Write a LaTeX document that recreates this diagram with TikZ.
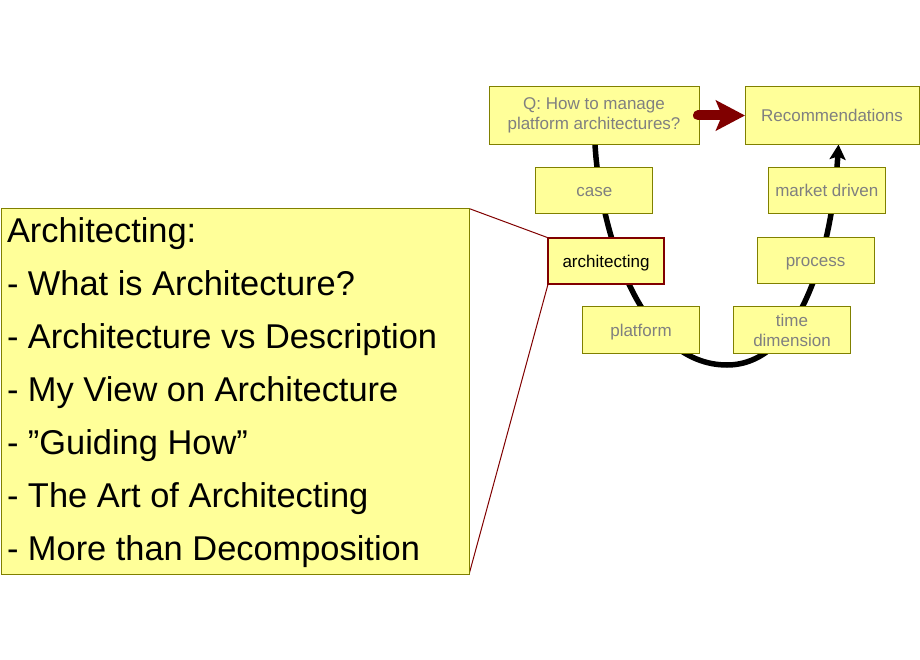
\documentclass[tikz,border=0pt]{standalone}
\usepackage{fontspec}
\setmainfont{Liberation Sans}
\usetikzlibrary{arrows.meta,backgrounds}
\definecolor{boxfill}{HTML}{FFFF99}
\definecolor{boxline}{HTML}{808000}
\definecolor{darkred}{HTML}{800000}
\tikzset{
  box/.style={draw=boxline,fill=boxfill,line width=1pt,outer sep=0pt,inner sep=0pt,align=flush center,text=gray,
    font=\fontsize{17}{20}\selectfont},
  topbox/.style={box,minimum height=58pt},
  stopbox/.style={box,minimum width=117pt,minimum height=46.5pt},
  oneline/.style={text height=16pt,text depth=4pt}
}
\begin{document}
\begin{tikzpicture}[x=1pt,y=-1pt]
\useasboundingbox (0,0) rectangle (920,660);
\node[topbox,minimum width=210pt] (q) at (594,115.5) {Q: How to manage\\platform architectures?};
\node[topbox,oneline,minimum width=174pt] (rec) at (832,115.5) {Recommendations};
\node[stopbox,oneline] (case) at (594.3,190.5) {case};
\node[stopbox,oneline] (market) at (826.8,190.5) {market driven};
\node[stopbox,oneline] (process) at (815.5,260.5) {process};
\node[stopbox,oneline] (platform) at (641,330) {platform};
\node[stopbox] (time) at (792,330) {time\\dimension};
\node[stopbox,oneline,minimum width=116pt,draw=darkred,line width=2pt,text=black] (arch) at (606,261) {architecting};
\node[box,minimum width=468pt,minimum height=366pt,text=black,align=flush left,anchor=north west,text width=456pt,
  font=\fontsize{34.4}{53}\selectfont] (big) at (1,208.5) {\rule{0pt}{27pt}Architecting:\\- What is Architecture?\\- Architecture vs Description\\- My View on Architecture\\- ”Guiding How”\\- The Art of Architecting\\- More than Decomposition};
\begin{pgfonlayer}{background}
\draw [-{Stealth[length=15pt,width=16pt,inset=3pt]},line width=5.5pt] ([xshift=1pt] q.south) .. controls (600,230) and (640,365) .. (727,365)
  .. controls (800,365) and (832,250) .. ([xshift=6.5pt] rec.south);
\draw [line width=1pt,darkred] (big.north east) -- (arch.north west);
\draw [line width=1pt,darkred] (big.south east) -- (arch.south west);
\end{pgfonlayer}
\draw [-{Stealth[length=29pt,width=30pt,inset=6pt]},line width=10pt,line cap=round,darkred] ([xshift=-1pt] q.east) -- (rec.west);
\end{tikzpicture}
\end{document}
